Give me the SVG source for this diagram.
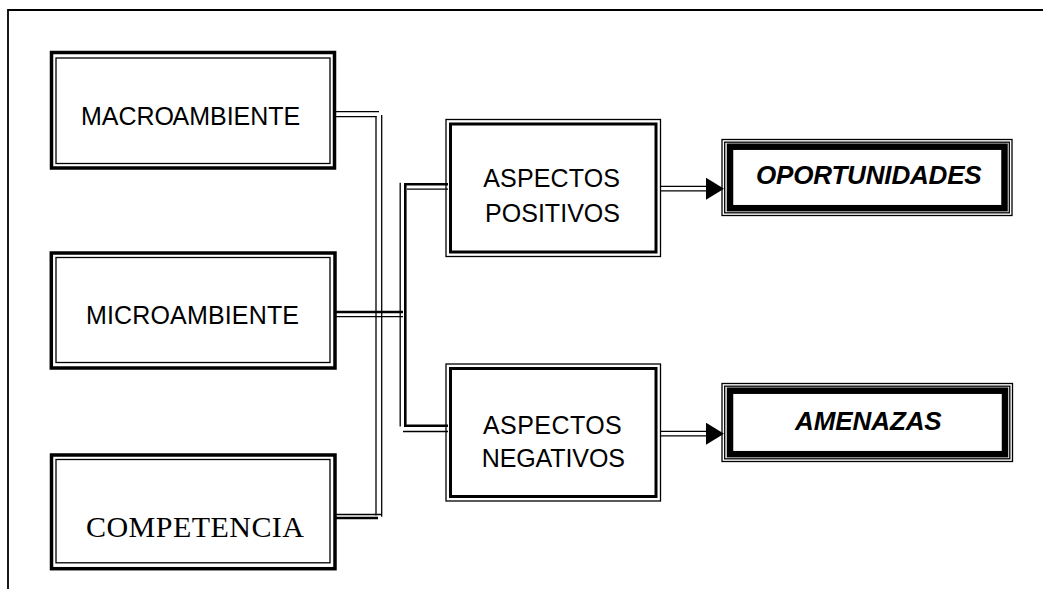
<svg xmlns="http://www.w3.org/2000/svg" width="1043" height="589" viewBox="0 0 1043 589">
<style>
.bg{fill:#fff}
.thk{fill:none;stroke:#000;stroke-width:3.5}
.thn{fill:none;stroke:#000;stroke-width:1.3}
.thk3{fill:none;stroke:#000;stroke-width:3}
.band{fill:none;stroke:#000;stroke-width:6.5}
.ln{fill:none;stroke:#000;stroke-width:1.3}
.ln2{fill:none;stroke:#000;stroke-width:2.6}
.sans{font-family:"Liberation Sans",Arial,sans-serif;font-size:25px;fill:#000}
.serif{font-family:"Liberation Serif","Times New Roman",serif;font-size:30px;fill:#000}
.bi{font-family:"Liberation Sans",Arial,sans-serif;font-size:26px;font-weight:bold;font-style:italic;fill:#000}
</style>
<defs>
<marker id="ah" markerUnits="userSpaceOnUse" markerWidth="18" markerHeight="22" refX="4" refY="11" orient="auto">
<path d="M0,0 L18,11 L0,22 Z" fill="#000"/>
</marker>
</defs>
<rect class="bg" x="0" y="0" width="1043" height="589"/>
<path d="M8 589 V10 H1043" fill="none" stroke="#000" stroke-width="1.8"/>

<g id="connectors">
<line class="ln" x1="336" y1="111.7" x2="379" y2="111.7"/>
<line class="ln" x1="336" y1="116.7" x2="376.5" y2="116.7"/>
<line class="ln" x1="376" y1="116" x2="376" y2="515.5"/>
<line class="ln" x1="381.7" y1="115" x2="381.7" y2="516.7"/>
<line class="ln" x1="336" y1="514.5" x2="381" y2="514.5"/>
<line class="ln2" x1="336" y1="518" x2="378" y2="518"/>
<line class="ln2" x1="335" y1="312" x2="403" y2="312"/>
<line class="ln" x1="335" y1="316.7" x2="403" y2="316.7"/>
<line class="ln" x1="400.2" y1="182.7" x2="400.2" y2="426.5"/>
<path class="ln2" d="M448 184.3 H405.3 V425.8 H448"/>
<line class="ln" x1="407" y1="189.2" x2="448" y2="189.2"/>
<line class="ln" x1="403" y1="431.5" x2="448" y2="431.5"/>
<line x1="661" y1="188.7" x2="710" y2="188.7" stroke="#000" stroke-width="5.8" marker-end="url(#ah)"/>
<line x1="660" y1="188.7" x2="706" y2="188.7" stroke="#fff" stroke-width="3.2"/>
<line x1="661" y1="433.7" x2="710" y2="433.7" stroke="#000" stroke-width="5.8" marker-end="url(#ah)"/>
<line x1="660" y1="433.7" x2="706" y2="433.7" stroke="#fff" stroke-width="3.2"/>
</g>

<g id="macroambiente">
<rect class="thk" x="51.5" y="52.5" width="283" height="115.5"/>
<rect class="thn" x="56" y="58" width="274" height="105.5"/>
<text class="sans" x="81" y="125"><tspan>MACRO</tspan><tspan x="172.5">AMBIENTE</tspan></text>
</g>

<g id="microambiente">
<rect class="thk" x="51.3" y="253" width="283.7" height="115"/>
<rect class="thn" x="56" y="257.5" width="274" height="105"/>
<text class="sans" x="86" y="324.3" textLength="213">MICROAMBIENTE</text>
</g>

<g id="competencia">
<rect class="thk" x="51.5" y="455" width="283.5" height="113.7"/>
<rect class="thn" x="56" y="459.5" width="274" height="103.3"/>
<text class="serif" x="86" y="536.7" textLength="218">COMPETENCIA</text>
</g>

<g id="aspectos-positivos">
<rect class="thn" x="446" y="119.5" width="214.5" height="137"/>
<rect class="thk3" x="450.5" y="124" width="205.5" height="128"/>
<text class="sans" x="483.3" y="187.3" textLength="136.7">ASPECTOS</text>
<text class="sans" x="485" y="221.7" textLength="135">POSITIVOS</text>
</g>

<g id="aspectos-negativos">
<rect class="thn" x="446" y="364" width="214.5" height="137"/>
<rect class="thk3" x="450.5" y="368.5" width="205.5" height="128"/>
<text class="sans" x="483" y="434" textLength="138.7">ASPECTOS</text>
<text class="sans" x="481.7" y="466.7" textLength="143.3">NEGATIVOS</text>
</g>

<g id="oportunidades">
<rect class="thn" x="722" y="139.5" width="290" height="76"/>
<rect class="thn" x="724.7" y="142.2" width="284.6" height="70.6"/>
<rect class="band" x="730" y="146.7" width="274.5" height="61.5"/>
<text class="bi" x="756" y="184.3" textLength="225.7">OPORTUNIDADES</text>
</g>

<g id="amenazas">
<rect class="thn" x="722" y="383.5" width="290.5" height="78"/>
<rect class="thn" x="724.7" y="386.2" width="285.1" height="72.6"/>
<rect class="band" x="730" y="390.7" width="275" height="63.5"/>
<text class="bi" x="795" y="430" textLength="146.7">AMENAZAS</text>
</g>
</svg>
